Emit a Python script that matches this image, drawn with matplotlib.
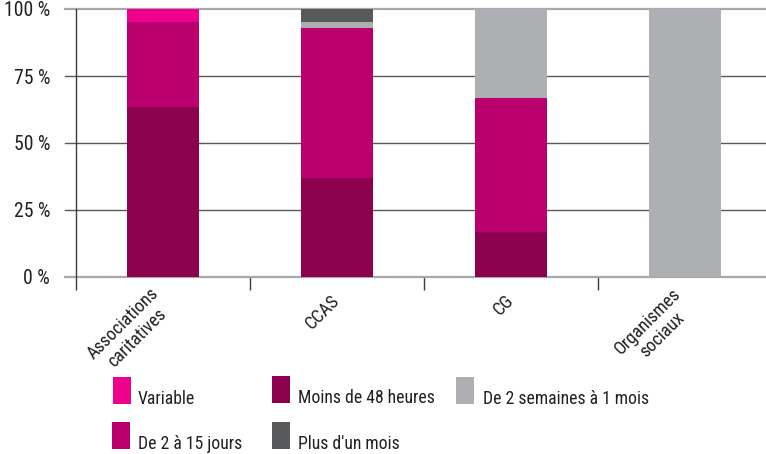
import matplotlib
matplotlib.use("Agg")
import matplotlib.pyplot as plt
from matplotlib.patches import Rectangle
from matplotlib.font_manager import fontManager

# Data: share of each response delay by type of organisation (%)
categories = ["Associations\ncaritatives", "CCAS", "CG", "Organismes\nsociaux"]
moins_48h = [63.4, 37.0, 16.7, 0.0]
de_2_a_15j = [31.8, 56.0, 50.0, 0.0]
de_2sem_a_1mois = [0.0, 2.3, 33.3, 100.0]
plus_un_mois = [0.0, 4.7, 0.0, 0.0]
variable = [4.8, 0.0, 0.0, 0.0]
ytick_values = [0, 25, 50, 75, 100]
ytick_labels = ["0 %", "25 %", "50 %", "75 %", "100 %"]

colors = {
    "Variable": "#EC008C",
    "Moins de 48 heures": "#8C004E",
    "De 2 à 15 jours": "#B9006D",
    "De 2 semaines à 1 mois": "#AEAFB2",
    "Plus d'un mois": "#58595B",
}

# prefer a condensed sans face when one is installed
installed = {f.name for f in fontManager.ttflist}
main_face = "Liberation Sans"
for cand in ("Liberation Sans Narrow", "Roboto Condensed", "Open Sans Condensed",
             "Noto Sans Condensed", "DejaVu Sans Condensed"):
    if cand in installed:
        main_face = cand
        break
plt.rcParams["font.family"] = [main_face, "DejaVu Sans"]
text_color = "#231F20"

W, H = 766, 454
fig = plt.figure(figsize=(W / 100, H / 100), dpi=100)

# size the text so that a legend entry spans about 136 px
renderer = fig.canvas.get_renderer()
probe = fig.text(0, 0, "Moins de 48 heures", fontsize=13)
probe_w = probe.get_window_extent(renderer).width
probe.remove()
fs = 13 * 136 / probe_w

ax_left, ax_right, ax_top, ax_bottom = 76, 766, 9, 277
ax = fig.add_axes([ax_left / W, 1 - ax_bottom / H, (ax_right - ax_left) / W,
                   (ax_bottom - ax_top) / H])

x = list(range(len(categories)))
bar_w = 0.41
stack_order = [("Moins de 48 heures", moins_48h), ("De 2 à 15 jours", de_2_a_15j),
               ("De 2 semaines à 1 mois", de_2sem_a_1mois),
               ("Plus d'un mois", plus_un_mois), ("Variable", variable)]
bottom = [0.0] * len(categories)
for name, vals in stack_order:
    ax.bar(x, vals, bar_w, bottom=bottom, color=colors[name], linewidth=0, zorder=3)
    bottom = [b + v for b, v in zip(bottom, vals)]

xmax = len(categories) - 0.5 - 6 / 174
ax.set_xlim(-0.5, xmax)
ax.set_ylim(0, 100)

# horizontal grid lines, extending slightly left of the axis as tick marks
ext = -11 / (ax_right - ax_left)
for v in ytick_values:
    edge = v in (ytick_values[0], ytick_values[-1])
    ax.axhline(v, xmin=ext, xmax=1, color="#A7A8AB" if edge else "#58595B",
               lw=1.6 if edge else 1.0, clip_on=False, zorder=2)

for s in ("top", "right", "bottom"):
    ax.spines[s].set_visible(False)
ax.spines["left"].set_color("#3C3C3C")
ax.spines["left"].set_linewidth(1.0)
ax.spines["left"].set_zorder(4)

ax.set_yticks(ytick_values)
ax.set_yticklabels(ytick_labels, fontsize=fs * 1.12, color=text_color)
ax.tick_params(axis="y", length=0, pad=26 * 0.72)

# category labels at bar centres, separator ticks between categories
ax.set_xticks(x)
ax.set_xticklabels(categories, rotation=45, ha="right", va="center",
                   rotation_mode="anchor", fontsize=fs * 1.03, color=text_color,
                   multialignment="center", linespacing=1.15)
ax.tick_params(axis="x", which="major", length=0, pad=15)
ax.set_xticks([i - 0.5 for i in x], minor=True)
ax.tick_params(axis="x", which="minor", length=13 * 0.72, width=1.0,
               color="#3C3C3C", direction="out")

# legend drawn as tall swatches with labels
legend_items = [
    ("Variable", 113, 377, 138),
    ("Moins de 48 heures", 272, 376, 298),
    ("De 2 semaines à 1 mois", 456, 377, 483),
    ("De 2 à 15 jours", 112, 422, 138),
    ("Plus d'un mois", 272, 422, 298),
]
sw, sh = 18, 27
for name, px, py, tx in legend_items:
    fig.patches.append(Rectangle((px / W, 1 - (py + sh) / H), sw / W, sh / H,
                                 transform=fig.transFigure, color=colors[name],
                                 linewidth=0))
    fig.text(tx / W, 1 - (py + sh) / H, name, fontsize=fs, color=text_color,
             ha="left", va="baseline")

fig.savefig("out.png", dpi=100)
